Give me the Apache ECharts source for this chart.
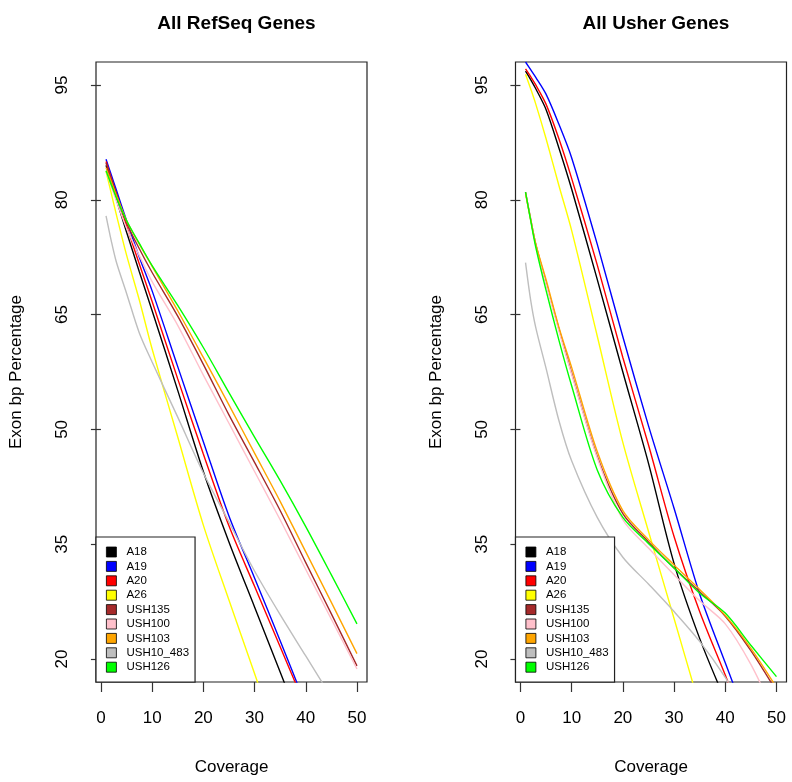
<!DOCTYPE html>
<html>
<head>
<meta charset="utf-8">
<script src="https://cdn.jsdelivr.net/npm/echarts@6/dist/echarts.min.js"></script>
<style>
html,body{margin:0;padding:0;background:#fff;}
#chart{width:792px;height:782px;}
</style>
</head>
<body>
<div id="chart"></div>
<script>
// Coverage values (x) at which the curves were read
const coverage = [1, 2, 3, 5, 7.5, 10, 15, 20, 25, 30, 35, 40, 45, 50];

const seriesNames = ['A18', 'A19', 'A20', 'A26', 'USH135', 'USH100', 'USH103', 'USH10_483', 'USH126'];
const seriesColors = ['#000000', '#0000FF', '#FF0000', '#FFFF00', '#A52A2A', '#FFC0CB', '#FFA500', '#BEBEBE', '#00FF00'];

// Panel 1: All RefSeq Genes (Exon bp Percentage)
const refseq_A18 = [84.5, 82.3, 80.1, 75.8, 70.6, 65.5, 55.1, 44.5, 35.3, 26.8, 18.3, 9.8];
const refseq_A19 = [85.3, 83.3, 81.3, 77.3, 72.5, 68.1, 58.2, 48.4, 38.7, 30.6, 22.4, 14.0];
const refseq_A20 = [85.0, 82.9, 80.8, 76.6, 71.6, 66.7, 56.6, 46.8, 37.4, 29.5, 21.6, 13.7];
const refseq_A26 = [83.7, 80.9, 78.1, 72.8, 66.9, 60.5, 49.0, 37.5, 27.7, 18.1, 8.5];
const refseq_USH135 = [84.8, 82.8, 80.9, 77.0, 73.6, 70.5, 64.8, 58.5, 51.9, 45.7, 39.4, 32.6, 25.9, 19.1];
const refseq_USH100 = [83.8, 81.8, 79.9, 76.3, 72.7, 69.3, 63.6, 57.1, 50.8, 44.5, 38.2, 31.7, 25.2, 18.7];
const refseq_USH103 = [84.2, 82.4, 80.6, 77.3, 74.2, 71.3, 65.5, 59.4, 53.2, 46.9, 40.6, 34.0, 27.4, 20.7];
const refseq_USH10_483 = [77.9, 74.7, 71.9, 67.8, 62.6, 58.8, 51.6, 44.3, 37.9, 31.5, 25.8, 20.4, 15.0];
const refseq_USH126 = [83.8, 82.0, 80.3, 77.3, 74.3, 71.4, 66.2, 60.7, 54.8, 49.0, 43.3, 37.3, 31.0, 24.6];

// Panel 2: All Usher Genes (Exon bp Percentage)
const usher_A18 = [96.8, 95.7, 94.5, 91.8, 86.8, 81.4, 69.6, 57.5, 45.6, 32.5, 22.7, 14.6];
const usher_A19 = [98.0, 97.0, 96.0, 93.8, 89.9, 85.5, 74.2, 62.1, 50.5, 39.7, 28.5, 19.5, 10.7];
const usher_A20 = [97.1, 96.1, 95.0, 92.5, 88.0, 82.8, 71.5, 59.4, 48.0, 36.0, 26.2, 17.9, 9.5];
const usher_A26 = [96.4, 94.5, 92.5, 88.0, 81.9, 76.0, 62.2, 48.3, 36.7, 25.3, 13.8];
const usher_USH135 = [81.0, 77.5, 74.2, 69.2, 63.2, 57.4, 46.5, 39.0, 35.3, 31.9, 28.8, 25.6, 21.1, 15.8];
const usher_USH100 = [80.8, 77.4, 74.0, 69.0, 62.9, 57.2, 46.3, 38.2, 34.5, 31.0, 27.6, 24.6, 19.3, 12.3];
const usher_USH103 = [80.8, 77.4, 74.2, 69.6, 63.4, 58.1, 47.1, 39.4, 35.6, 32.3, 29.1, 25.7, 21.4, 16.3];
const usher_USH10_483 = [71.8, 66.9, 63.3, 58.0, 51.2, 45.9, 38.5, 33.3, 29.8, 26.2, 22.3, 17.6, 12.0];
const usher_USH126 = [81.0, 77.3, 73.8, 68.2, 61.7, 55.7, 44.7, 38.5, 35.1, 31.9, 28.6, 26.0, 21.8, 17.7];

const xTicks = [0, 10, 20, 30, 40, 50];
const yTicks = [20, 35, 50, 65, 80, 95];
const panelTitles = ['All RefSeq Genes', 'All Usher Genes'];
const xTitle = 'Coverage';
const yTitle = 'Exon bp Percentage';

const panels = [
  [refseq_A18, refseq_A19, refseq_A20, refseq_A26, refseq_USH135, refseq_USH100, refseq_USH103, refseq_USH10_483, refseq_USH126],
  [usher_A18, usher_A19, usher_A20, usher_A26, usher_USH135, usher_USH100, usher_USH103, usher_USH10_483, usher_USH126]
];

const FONT = '"Liberation Sans", Arial, Helvetica, sans-serif';
const gridLefts = [96, 515.5];
const gridWidth = 271;

const chart = echarts.init(document.getElementById('chart'), null, {renderer: 'canvas'});

const grids = gridLefts.map(l => ({
  left: l, top: 62, width: gridWidth, height: 620,
  show: true, borderColor: '#222', borderWidth: 1.2, backgroundColor: 'transparent'
}));

const xAxes = [0, 1].map(i => ({
  type: 'value', gridIndex: i, min: -0.96, max: 51.96,
  axisLine: {show: false}, splitLine: {show: false},
  axisTick: {show: true, length: 10, customValues: xTicks, lineStyle: {color: '#333', width: 1.2}},
  axisLabel: {customValues: xTicks, margin: 28, fontSize: 17, color: '#000', fontFamily: FONT},
  name: xTitle, nameLocation: 'middle', nameGap: 77,
  nameTextStyle: {fontSize: 17, color: '#000', fontFamily: FONT}
}));

const yAxes = [0, 1].map(i => ({
  type: 'value', gridIndex: i, min: 17, max: 98,
  axisLine: {show: false}, splitLine: {show: false},
  axisTick: {show: true, length: 10, customValues: yTicks, lineStyle: {color: '#333', width: 1.2}},
  axisLabel: {customValues: yTicks, rotate: 90, margin: 25, fontSize: 17, color: '#000', fontFamily: FONT},
  name: yTitle, nameLocation: 'middle', nameGap: 71,
  nameTextStyle: {fontSize: 17, color: '#000', fontFamily: FONT}
}));

const series = [];
panels.forEach((arrs, p) => {
  arrs.forEach((arr, k) => {
    series.push({
      type: 'line', name: seriesNames[k], xAxisIndex: p, yAxisIndex: p,
      data: coverage.map((x, i) => [x, arr[i]]).filter(d => d[1] !== undefined && d[1] !== null),
      showSymbol: false, smooth: 0.3, clip: true,
      lineStyle: {width: 1.4, color: seriesColors[k]},
      itemStyle: {color: seriesColors[k]},
      emphasis: {disabled: true}
    });
  });
});

const legends = gridLefts.map(l => ({
  left: l, top: 537, orient: 'vertical', selectedMode: false,
  data: seriesNames, icon: 'rect', itemWidth: 10, itemHeight: 10, itemGap: 2.4,
  padding: [9, 6, 9, 10],
  backgroundColor: '#fff', borderColor: '#222', borderWidth: 1.2, borderRadius: 0,
  itemStyle: {borderColor: '#000', borderWidth: 0.8},
  textStyle: {fontSize: 11.5, lineHeight: 12, color: '#000', fontFamily: FONT, padding: [0, 0, 0, 5]}
}));

const titles = panelTitles.map((t, i) => ({
  text: t, left: gridLefts[i] + gridWidth / 2, top: 9, textAlign: 'center',
  textStyle: {fontSize: 19, fontWeight: 'bold', color: '#000', fontFamily: FONT}
}));

chart.setOption({
  animation: false,
  backgroundColor: '#fff',
  title: titles,
  grid: grids,
  xAxis: xAxes,
  yAxis: yAxes,
  legend: legends,
  series: series
});
</script>
</body>
</html>
